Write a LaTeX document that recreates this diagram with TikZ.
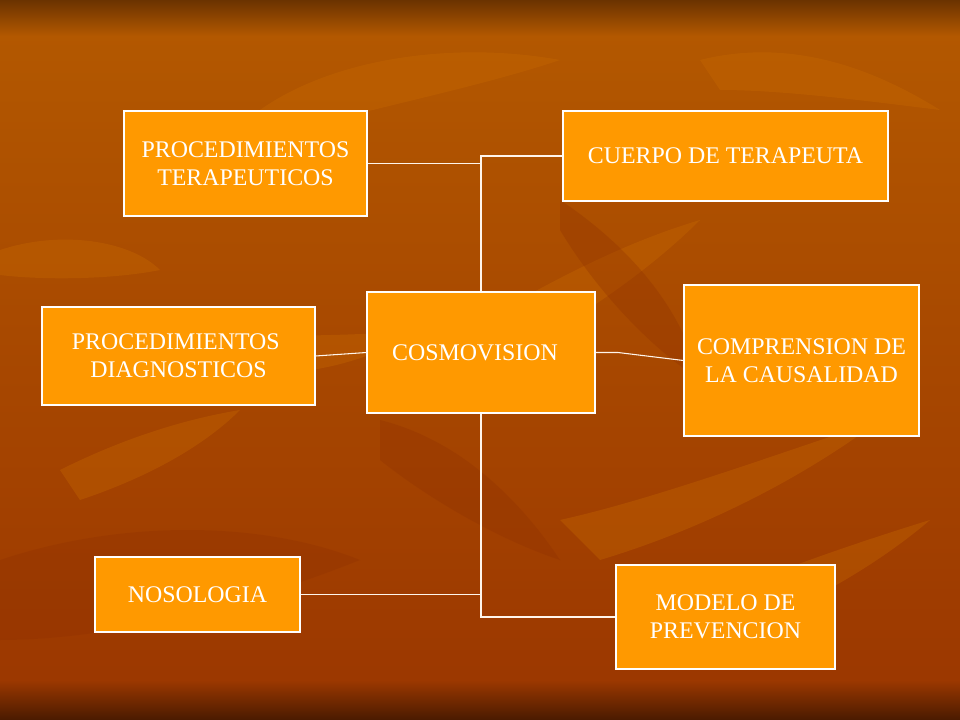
\documentclass[tikz,border=0pt]{standalone}
\usepackage{fontspec}
\setmainfont{Liberation Serif}
\begin{document}
\begin{tikzpicture}[x=0.75pt,y=-0.75pt,
  box/.style={draw=white, line width=0.8pt, fill=boxorange, text=white,
    align=center, inner sep=0pt, font=\fontsize{17.9}{21}\selectfont},
  conn/.style={draw=white!92!orange, line width=0.8pt},
  leaf/.style={fill=leafcol, opacity=0.35, draw=none},
  dleaf/.style={fill=darkleaf, opacity=0.3, draw=none}]
\definecolor{boxorange}{HTML}{FF9900}
\definecolor{leafcol}{HTML}{C86A00}
\definecolor{darkleaf}{HTML}{8E3000}
\definecolor{topdark}{HTML}{6B3300}
\definecolor{bodytop}{HTML}{B35800}
\definecolor{bodymid}{HTML}{A84800}
\definecolor{bodybot}{HTML}{9C3800}
\definecolor{botdark}{HTML}{4A1A00}
\useasboundingbox (0,0) rectangle (960,720);
% background
\shade[top color=bodytop, bottom color=bodybot] (0,30) rectangle (960,680);
\shade[top color=topdark, bottom color=bodytop] (0,0) rectangle (960,36);
\shade[top color=bodybot, bottom color=botdark] (0,680) rectangle (960,720);
% leaf texture
\path[leaf] (0,250) .. controls (60,230) and (130,240) .. (160,270) .. controls (110,280) and (40,280) .. (0,275) -- cycle;
\path[leaf] (260,110) .. controls (330,60) and (450,40) .. (560,60) .. controls (470,90) and (360,110) .. (260,140) -- cycle;
\path[leaf] (430,350) .. controls (520,300) and (600,250) .. (700,220) .. controls (640,280) and (560,330) .. (470,380) -- cycle;
\path[leaf] (560,520) .. controls (650,500) and (760,460) .. (880,420) .. controls (800,480) and (700,530) .. (600,560) -- cycle;
\path[leaf] (620,640) .. controls (700,600) and (800,560) .. (930,520) .. controls (860,580) and (760,630) .. (660,660) -- cycle;
\path[leaf] (60,470) .. controls (120,440) and (180,420) .. (240,410) .. controls (200,450) and (140,480) .. (80,500) -- cycle;
\path[leaf] (700,60) .. controls (780,40) and (860,60) .. (940,110) .. controls (860,100) and (780,90) .. (720,90) -- cycle;
\path[leaf] (160,350) .. controls (230,330) and (320,340) .. (420,330) .. controls (340,380) and (250,380) .. (160,370) -- cycle;
\path[dleaf] (0,560) .. controls (120,520) and (260,520) .. (360,560) .. controls (260,600) and (120,640) .. (0,640) -- cycle;
\path[dleaf] (380,420) .. controls (460,440) and (520,500) .. (560,560) .. controls (500,540) and (430,500) .. (380,460) -- cycle;
\path[dleaf] (560,200) .. controls (620,240) and (680,300) .. (700,380) .. controls (640,340) and (590,280) .. (560,230) -- cycle;
% boxes
\node[box, minimum width=182.25pt, minimum height=78.75pt] (PT) at (245.5,163.5) {PROCEDIMIENTOS\\TERAPEUTICOS};
\node[box, minimum width=243.75pt, minimum height=67.5pt] (CU) at (725.5,156) {CUERPO DE TERAPEUTA};
\node[box, minimum width=204.75pt, minimum height=73.5pt] (PD) at (178.5,356) {\hspace*{-4pt}PROCEDIMIENTOS\\DIAGNOSTICOS};
\node[box, minimum width=171pt, minimum height=90.75pt] (CO) at (481,352.5) {\hspace*{-9pt}COSMOVISION};
\node[box, minimum width=176.25pt, minimum height=113.25pt] (CC) at (801.5,360.5) {COMPRENSION DE\\LA CAUSALIDAD};
\node[box, minimum width=153.75pt, minimum height=56.25pt] (NO) at (197.5,594.5) {NOSOLOGIA};
\node[box, minimum width=164.25pt, minimum height=78pt] (MO) at (725.5,617) {MODELO DE\\PREVENCION};
% connectors
\coordinate (CCbend) at (618,352.5);
\draw[conn] (PT.east) -- (PT.east -| CO.north);
\draw[conn] (CU.west) -| (CO.north);
\draw[conn] (PD.east) -- (CO.west);
\draw[conn] (CO.east) -- (CCbend) -- (CC.west);
\draw[conn] (NO.east) -- (NO.east -| CO.south);
\draw[conn] (CO.south) |- (MO.west);
\end{tikzpicture}
\end{document}
